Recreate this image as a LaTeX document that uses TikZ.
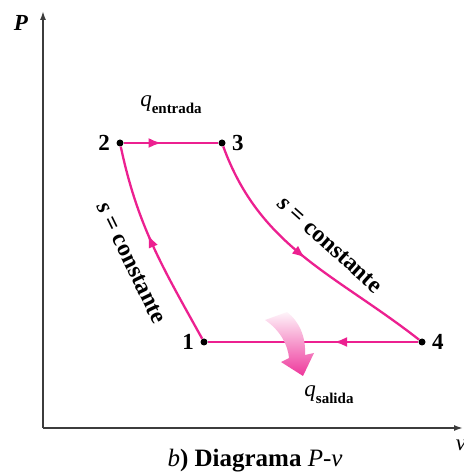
\documentclass[tikz,border=0pt]{standalone}
\usepackage{fontspec}
\setmainfont{Liberation Serif}
\usetikzlibrary{arrows.meta,positioning,decorations.markings}
\definecolor{cyclepink}{RGB}{236,32,144}
\definecolor{axisgray}{RGB}{60,60,60}
\newcommand{\qlab}[1]{\textit{\mdseries q}\raisebox{-0.3em}{\fontsize{15}{15}\selectfont\textbf{#1}}}
\newcommand{\sconst}{\textit{s} = constante}

\begin{document}
\begin{tikzpicture}[x=1pt, y=1pt,
    every node/.style={font=\fontsize{23}{25}\selectfont\bfseries},
    state/.style={circle, fill=black, inner sep=0pt, minimum size=7pt},
    process/.style={cyclepink, line width=2.3pt},
    midarrow/.style={postaction={decorate}, decoration={markings,
      mark=at position #1 with {\arrow{Latex[length=13pt,width=10pt]}}}},
    axis/.style={axisgray, line width=1.6pt, -{Latex[length=9pt,width=6pt]}}]
  \useasboundingbox (0,0) rectangle (464,475);
  % axes
  \coordinate (o) at (43,47);
  \coordinate (ytop) at (43,464);
  \coordinate (xend) at (463,47);
  \draw[axis] (o) -- (ytop);
  \draw[axis] (o) -- (xend);
  \node (plab) at (21,452) {\textit{P}};
  \node (vlab) at (461,30) {\textit{\mdseries v}};
  % states
  \node[state, label={[label distance=3pt]left:1}] (p1) at (204,133) {};
  \node[state, label={[label distance=3pt]left:2}] (p2) at (120,332) {};
  \node[state, label={[label distance=3pt]right:3}] (p3) at (222,332) {};
  \node[state, label={[label distance=3pt]right:4}] (p4) at (422,133) {};
  % processes
  \draw[process, midarrow=0.56] (p1) to[out=119, in=-78] (p2);
  \draw[process, midarrow=0.4] (p2) -- (p3);
  \draw[process, midarrow=0.5] (p3) to[out=-70, in=142] (p4);
  \draw[process, midarrow=0.4] (p4) -- (p1);
  \node[rotate=-64, font=\fontsize{24}{26}\selectfont\bfseries] (s12) at (131,212) {\sconst};
  \node[rotate=-42, font=\fontsize{24}{26}\selectfont\bfseries] (s34) at (330,230) {\sconst};
  % heat in and out
  \node (qin) at (171,370) {\qlab{entrada}};
  \shade[top color=cyclepink!5, bottom color=cyclepink!90]
    (265,155) .. controls (280,145) and (288,130) .. (289,117)
    -- (281,113) -- (303,99) -- (314,122) -- (305,120)
    .. controls (306,137) and (300,153) .. (287,163) -- cycle;
  \node (qout) at (329,80) {\qlab{salida}};
  % caption
  \node[font=\fontsize{25}{27}\selectfont\bfseries] (cap) at (255,14)
    {\textit{\mdseries b}) Diagrama \textit{\mdseries P}\textmd{-}\textit{\mdseries v}};
\end{tikzpicture}
\end{document}
